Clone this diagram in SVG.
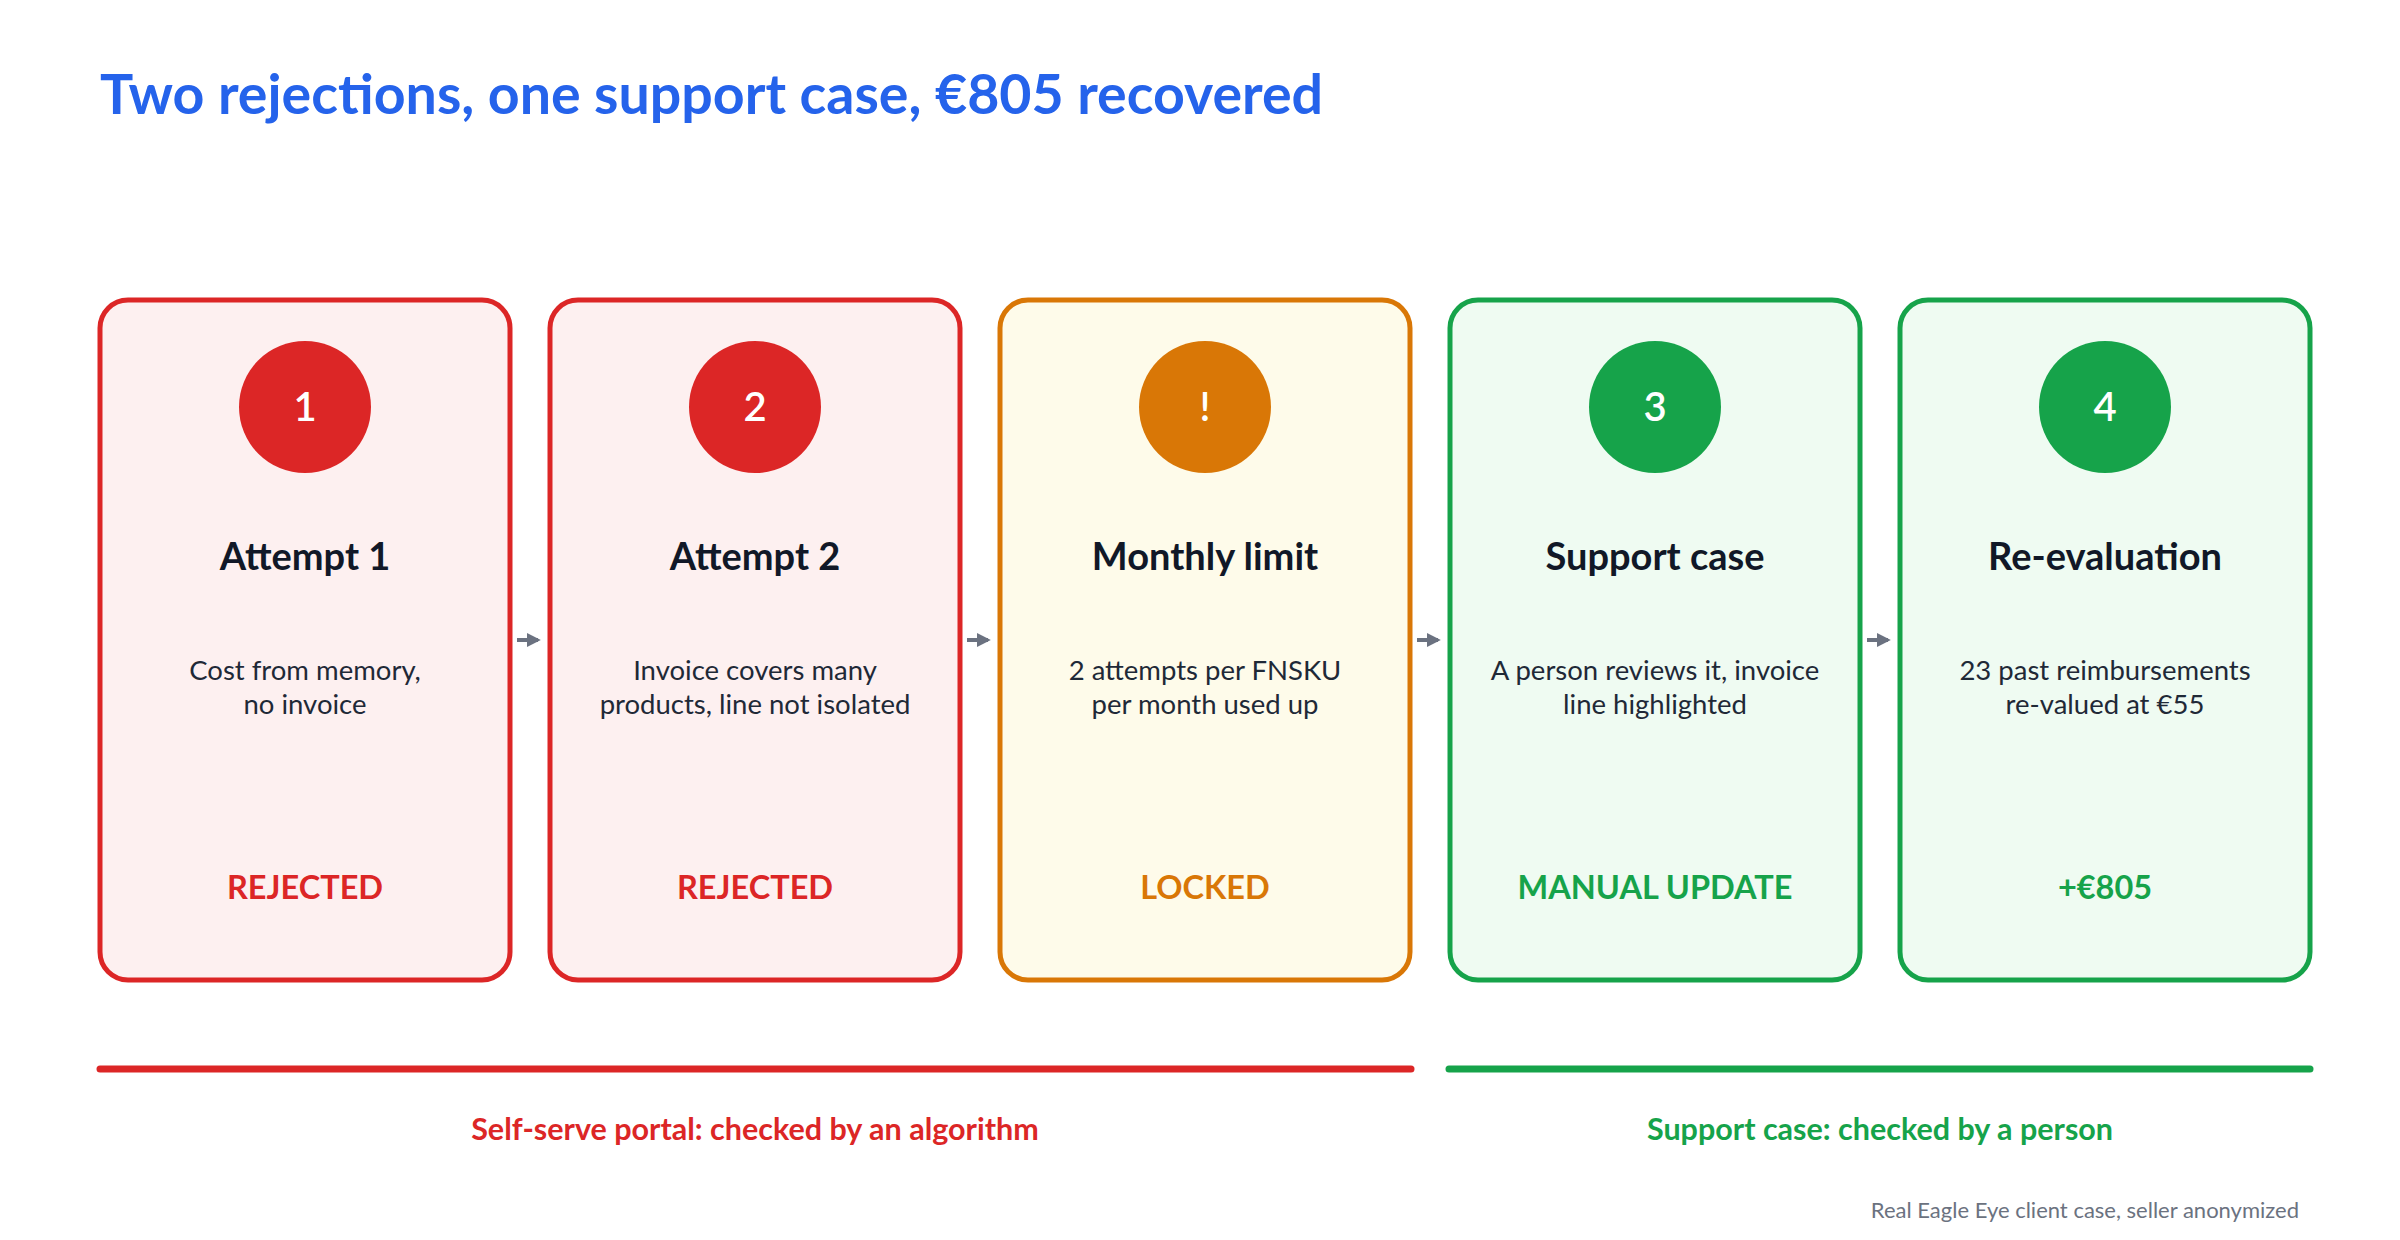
<svg xmlns="http://www.w3.org/2000/svg" width="2400" height="1240" viewBox="0 0 2400 1240">
<style>
text{font-family:Lato,"Open Sans","Liberation Sans",sans-serif}
.card{stroke-width:5}
.red{fill:#fdf0f0;stroke:#dc2626}
.amb{fill:#fefbea;stroke:#d97706}
.grn{fill:#effbf2;stroke:#16a34a}
.num{fill:#fff;font-size:40px;font-weight:600;text-anchor:middle}
.h{fill:#111827;font-size:38px;font-weight:700;text-anchor:middle}
.d{fill:#1f2937;font-size:27.5px;text-anchor:middle}
.s{font-size:32.5px;font-weight:700;text-anchor:middle}
.conn{stroke:#6b7280;stroke-width:4;fill:none}
</style>
<defs><marker id="ah" viewBox="0 0 10 10" refX="8" refY="5" markerWidth="3.5" markerHeight="3.5" orient="auto"><path d="M0,0L10,5L0,10z" fill="#6b7280"/></marker></defs>
<rect width="2400" height="1240" fill="#fff"/>
<text x="100" y="114" font-size="55.5" font-weight="700" fill="#2563eb">Two rejections, one support case, €805 recovered</text>
<g id="n1"><rect class="card red" x="100" y="300" width="410" height="680" rx="28"/><circle cx="305" cy="407" r="66" fill="#dc2626"/><text class="num" x="305" y="421">1</text><text class="h" x="305" y="570">Attempt 1</text><text class="d" x="305" y="680">Cost from memory,</text><text class="d" x="305" y="714">no invoice</text><text class="s" x="305" y="899" fill="#dc2626">REJECTED</text></g>
<g id="n2"><rect class="card red" x="550" y="300" width="410" height="680" rx="28"/><circle cx="755" cy="407" r="66" fill="#dc2626"/><text class="num" x="755" y="421">2</text><text class="h" x="755" y="570">Attempt 2</text><text class="d" x="755" y="680">Invoice covers many</text><text class="d" x="755" y="714">products, line not isolated</text><text class="s" x="755" y="899" fill="#dc2626">REJECTED</text></g>
<g id="n3"><rect class="card amb" x="1000" y="300" width="410" height="680" rx="28"/><circle cx="1205" cy="407" r="66" fill="#d97706"/><text class="num" x="1205" y="421">!</text><text class="h" x="1205" y="570">Monthly limit</text><text class="d" x="1205" y="680">2 attempts per FNSKU</text><text class="d" x="1205" y="714">per month used up</text><text class="s" x="1205" y="899" fill="#d97706">LOCKED</text></g>
<g id="n4"><rect class="card grn" x="1450" y="300" width="410" height="680" rx="28"/><circle cx="1655" cy="407" r="66" fill="#16a34a"/><text class="num" x="1655" y="421">3</text><text class="h" x="1655" y="570">Support case</text><text class="d" x="1655" y="680">A person reviews it, invoice</text><text class="d" x="1655" y="714">line highlighted</text><text class="s" x="1655" y="899" fill="#16a34a">MANUAL UPDATE</text></g>
<g id="n5"><rect class="card grn" x="1900" y="300" width="410" height="680" rx="28"/><circle cx="2105" cy="407" r="66" fill="#16a34a"/><text class="num" x="2105" y="421">4</text><text class="h" x="2105" y="570">Re-evaluation</text><text class="d" x="2105" y="680">23 past reimbursements</text><text class="d" x="2105" y="714">re-valued at €55</text><text class="s" x="2105" y="899" fill="#16a34a">+€805</text></g>
<g id="connectors">
<path class="conn" d="M517,640H538" marker-end="url(#ah)"/>
<path class="conn" d="M967,640H988" marker-end="url(#ah)"/>
<path class="conn" d="M1417,640H1438" marker-end="url(#ah)"/>
<path class="conn" d="M1867,640H1888" marker-end="url(#ah)"/>
</g>
<line x1="100" y1="1069" x2="1411" y2="1069" stroke="#dc2626" stroke-width="7" stroke-linecap="round"/>
<line x1="1449" y1="1069" x2="2310" y2="1069" stroke="#16a34a" stroke-width="7" stroke-linecap="round"/>
<text x="755" y="1140" font-size="30.5" font-weight="700" fill="#dc2626" text-anchor="middle">Self-serve portal: checked by an algorithm</text>
<text x="1880" y="1140" font-size="30.5" font-weight="700" fill="#16a34a" text-anchor="middle">Support case: checked by a person</text>
<text x="2299" y="1218" font-size="22" fill="#6b7280" text-anchor="end">Real Eagle Eye client case, seller anonymized</text>
</svg>
